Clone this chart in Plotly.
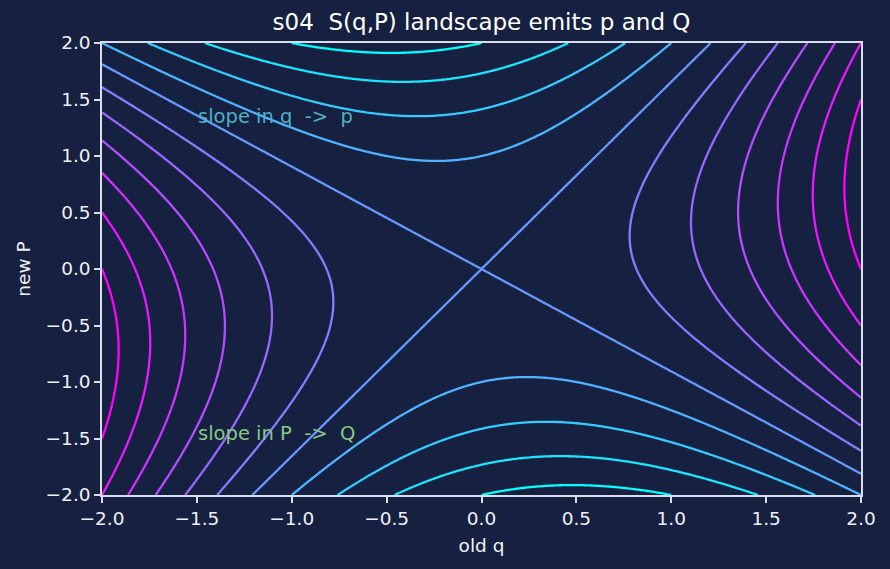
import numpy as np
import plotly.graph_objects as go

# ---- data -------------------------------------------------------------
# quadratic generating function S(q,P) = A*q^2 + B*q*P + C*P^2
coef_names = ["q^2", "q*P", "P^2"]
coef_values = [1.5, 0.75, -1.0]

q_range = [-2.0, 2.0]
P_range = [-2.0, 2.0]
n_grid = 301

level_start = -4
level_end = 6
level_step = 1

tick_values = [-2.0, -1.5, -1.0, -0.5, 0.0, 0.5, 1.0, 1.5, 2.0]

annotation_texts = ["slope in q  ->  p", "slope in P  ->  Q"]
annotation_q = [-1.5, -1.5]
annotation_P = [1.35, -1.46]
annotation_colors = ["#4fb0c6", "#84c884"]

# ---- grid ---------------------------------------------------------------
q = np.linspace(q_range[0], q_range[1], n_grid)
P = np.linspace(P_range[0], P_range[1], n_grid)
Q, PP = np.meshgrid(q, P)
S = coef_values[0] * Q**2 + coef_values[1] * Q * PP + coef_values[2] * PP**2

BG = "#162040"
AX = "#d9dde8"
FONT = "DejaVu Sans"

fig = go.Figure()
fig.add_trace(go.Contour(
    x=q, y=P, z=S,
    autocontour=False,
    contours=dict(start=level_start, end=level_end, size=level_step,
                  coloring="lines", showlabels=False),
    colorscale=[[0, "#00ffff"], [1, "#ff00ff"]],
    line=dict(width=2.3, smoothing=1),
    showscale=False,
    hoverinfo="skip",
))

for txt, xq, yp, col in zip(annotation_texts, annotation_q, annotation_P, annotation_colors):
    fig.add_annotation(x=xq, y=yp, xref="x", yref="y", text=txt, showarrow=False,
                       xanchor="left", yanchor="middle", borderpad=0,
                       font=dict(family=FONT, size=19.5, color=col))

axis_common = dict(
    showgrid=False, zeroline=False, showline=True, mirror=True,
    linecolor=AX, linewidth=1.5, ticks="outside", ticklen=6, tickwidth=1.5,
    tickcolor=AX, tickvals=tick_values, tickformat=".1f",
    tickfont=dict(family=FONT, size=18.5, color="#eef0f6"),
)

fig.update_layout(
    width=890, height=569,
    paper_bgcolor=BG, plot_bgcolor=BG,
    margin=dict(l=102, r=29, t=43, b=74),
    title=dict(text="s04  S(q,P) landscape emits p and Q", x=0.5, xref="paper",
               y=1 - 22 / 569, yref="container", xanchor="center", yanchor="middle",
               font=dict(family=FONT, size=23, color="#ffffff")),
    xaxis=dict(range=q_range, title=dict(text="old q", standoff=11,
               font=dict(family=FONT, size=18.5, color="#eef0f6")), **axis_common),
    yaxis=dict(range=P_range, title=dict(text="new P", standoff=10,
               font=dict(family=FONT, size=18.5, color="#eef0f6")), **axis_common),
    showlegend=False,
)

fig.write_html("out.html")
